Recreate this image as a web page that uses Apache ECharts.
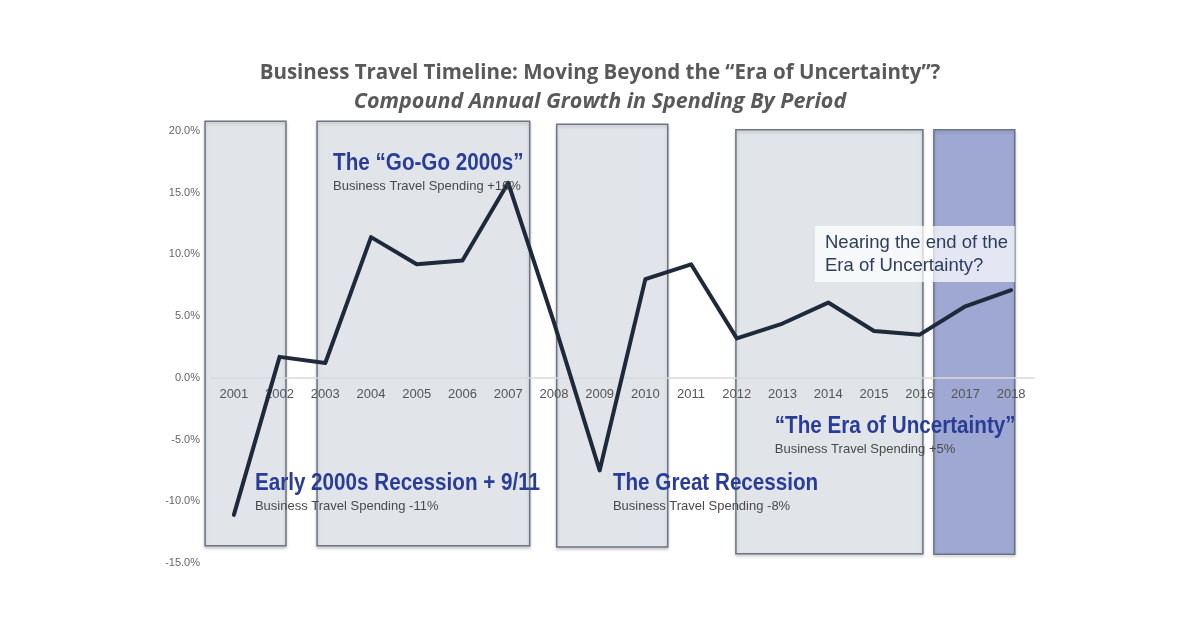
<!DOCTYPE html>
<html>
<head>
<meta charset="utf-8">
<script src="https://cdn.jsdelivr.net/npm/echarts@6/dist/echarts.min.js"></script>
<style>
html,body{margin:0;padding:0;background:#fff;}
#chart{width:1200px;height:627px;}
</style>
</head>
<body>
<div id="chart"></div>
<script>
// ---- data ----
const years = ['2001','2002','2003','2004','2005','2006','2007','2008','2009','2010','2011','2012','2013','2014','2015','2016','2017','2018'];
const growth = [-11.1, 1.7, 1.2, 11.4, 9.2, 9.5, 15.8, 4.5, -7.5, 8.0, 9.2, 3.2, 4.4, 6.1, 3.8, 3.5, 5.8, 7.1];
const yTicks = [-15, -10, -5, 0, 5, 10, 15, 20];

// period shading boxes (in year / percent units)
const boxStart  = [2000.37, 2002.82, 2008.06, 2011.98, 2016.31];
const boxEnd    = [2002.14, 2007.47, 2010.49, 2016.07, 2018.08];
const boxTop    = [20.8, 20.8, 20.55, 20.1, 20.1];
const boxBottom = [-13.6, -13.6, -13.7, -14.25, -14.3];
const boxKind   = ['grey','grey','grey','grey','blue'];

// period annotations
const annTitles = ['Early 2000s Recession + 9/11', 'The \u201cGo-Go 2000s\u201d', 'The Great Recession', '\u201cThe Era of Uncertainty\u201d'];
const annSubs   = ['Business Travel Spending -11%', 'Business Travel Spending +16%', 'Business Travel Spending -8%', 'Business Travel Spending +5%'];
const annYear   = [2001.46, 2003.17, 2009.29, 2012.83];
const annValue  = [-8.58, 17.4, -8.58, -3.97];

const noteLines = ['Nearing the end of the', 'Era of Uncertainty?'];
const noteBox = [2013.71, 2018.08, 12.3, 7.77];

const chart = echarts.init(document.getElementById('chart'), null, {renderer:'canvas'});

const boxData = boxStart.map((s,i)=>[s, boxEnd[i], boxTop[i], boxBottom[i], i]);
const annData = annTitles.map((t,i)=>[annYear[i], annValue[i], i]);

const gridTop = 131, gridBottom = 64;
const plotH = 627 - gridTop - gridBottom;
const yMin = yTicks[0], yMax = yTicks[yTicks.length-1];
// move the category axis (line + labels) up to the zero line
const zeroOffset = -plotH * (0 - yMin) / (yMax - yMin);

chart.setOption({
  animation:false,
  backgroundColor:'#fff',
  title:[{
    text:'Business Travel Timeline: Moving Beyond the \u201cEra of Uncertainty\u201d?',
    left:'center', top:58,
    textStyle:{fontFamily:'Open Sans', fontWeight:'bold', fontSize:20.5, color:'#595959'}
  },{
    text:'Compound Annual Growth in Spending By Period',
    left:'center', top:86,
    textStyle:{fontFamily:'Open Sans', fontWeight:'bold', fontStyle:'italic', fontSize:21.5, color:'#595959'}
  }],
  grid:{left:211, right:166, top:gridTop, bottom:gridBottom, containLabel:false},
  xAxis:[{
    type:'category', data:years, boundaryGap:true, position:'bottom', offset:zeroOffset, z:20,
    axisLine:{show:true, onZero:false, lineStyle:{color:'#d9d9d9', width:1.5}},
    axisTick:{show:false},
    axisLabel:{color:'#555', fontSize:13, fontFamily:'Liberation Sans', margin:10, interval:0},
    splitLine:{show:false}
  },{
    type:'value', min:2000.5, max:2018.5, show:false
  }],
  yAxis:{
    type:'value', min:yMin, max:yMax, interval:5,
    axisLine:{show:false}, axisTick:{show:false}, splitLine:{show:false},
    axisLabel:{color:'#666', fontSize:11, fontFamily:'Liberation Sans', margin:11,
      formatter:v=>v.toFixed(1)+'%'}
  },
  series:[{
    type:'custom', xAxisIndex:1, yAxisIndex:0, clip:false, silent:true, z:1,
    data:boxData,
    renderItem:(params, api)=>{
      const p0 = api.coord([api.value(0), api.value(2)]);
      const p1 = api.coord([api.value(1), api.value(3)]);
      const kind = boxKind[api.value(4)];
      return {type:'rect',
        shape:{x:p0[0], y:p0[1], width:p1[0]-p0[0], height:p1[1]-p0[1]},
        style:{fill: kind==='blue' ? '#9ea8d3' : '#e1e4e9', stroke:'#6b7583', lineWidth:1.5,
          shadowBlur:3, shadowColor:'rgba(0,0,0,0.18)', shadowOffsetY:2}};
    }
  },{
    type:'line', xAxisIndex:0, yAxisIndex:0, data:growth, z:25,
    symbol:'none', lineStyle:{color:'#1e2a3a', width:4, join:'round', cap:'round'}
  },{
    type:'custom', xAxisIndex:1, yAxisIndex:0, clip:false, silent:true, z:30,
    data:[noteBox],
    renderItem:(params, api)=>{
      const p0 = api.coord([api.value(0), api.value(2)]);
      const p1 = api.coord([api.value(1), api.value(3)]);
      return {type:'group', children:[
        {type:'rect', shape:{x:p0[0], y:p0[1], width:p1[0]-p0[0], height:p1[1]-p0[1]},
          style:{fill:'rgba(255,255,255,0.72)'}},
        {type:'text', x:p0[0]+10, y:p0[1]+17, style:{text:noteLines[0], fill:'#2c3d5e',
          font:"18.5px 'Liberation Sans', sans-serif", verticalAlign:'middle', align:'left'}},
        {type:'text', x:p0[0]+10, y:p0[1]+40, style:{text:noteLines[1], fill:'#2c3d5e',
          font:"18.5px 'Liberation Sans', sans-serif", verticalAlign:'middle', align:'left'}}
      ]};
    }
  },{
    type:'custom', xAxisIndex:1, yAxisIndex:0, clip:false, silent:true, z:30,
    data:annData,
    renderItem:(params, api)=>{
      const p = api.coord([api.value(0), api.value(1)]);
      const i = api.value(2);
      return {type:'group', children:[
        {type:'text', x:p[0], y:p[1], scaleX:0.86, style:{text:annTitles[i], fill:'#2a3d96',
          font:"bold 24px 'Liberation Sans', sans-serif", verticalAlign:'middle', align:'left'}},
        {type:'text', x:p[0], y:p[1]+23, style:{text:annSubs[i], fill:'#4a4a4a',
          font:"13px 'Liberation Sans', sans-serif", verticalAlign:'middle', align:'left'}}
      ]};
    }
  }]
});
</script>
</body>
</html>
